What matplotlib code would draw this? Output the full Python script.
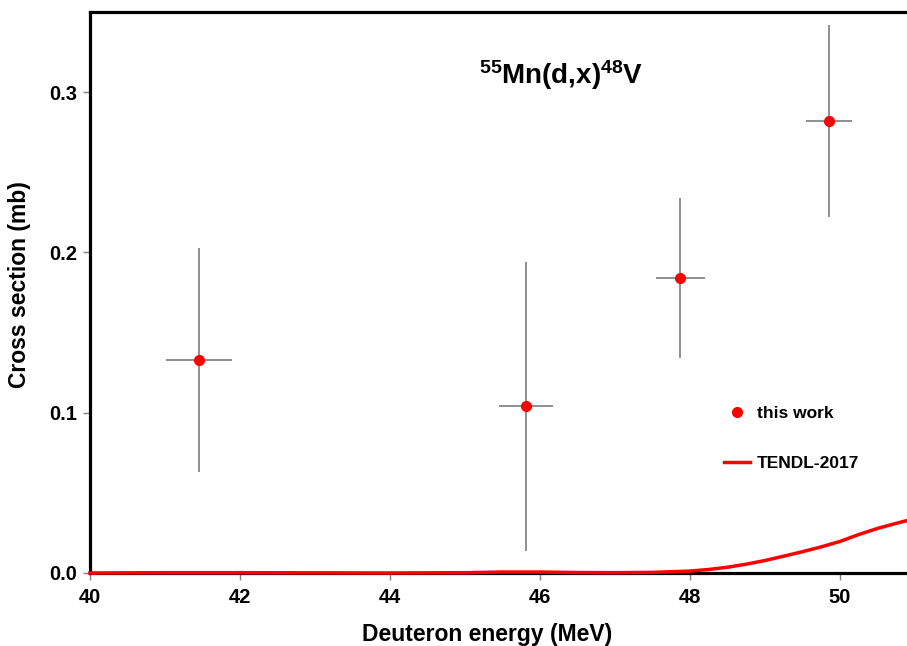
import matplotlib
matplotlib.use("Agg")
import matplotlib.pyplot as plt
from matplotlib.lines import Line2D

plt.rcParams['font.family'] = ['Liberation Sans', 'DejaVu Sans']
plt.rcParams['font.weight'] = 'bold'
plt.rcParams['mathtext.fontset'] = 'custom'
plt.rcParams['mathtext.rm'] = 'Liberation Sans:bold'
plt.rcParams['mathtext.bf'] = 'Liberation Sans:bold'
plt.rcParams['mathtext.default'] = 'bf'

# measured data (this work)
energy = [41.45, 45.81, 47.87, 49.85]
energy_err = [0.44, 0.36, 0.33, 0.31]
xs = [0.133, 0.104, 0.184, 0.282]
xs_err = [0.070, 0.090, 0.050, 0.060]

# TENDL-2017 curve
tendl_e = [40.0, 41.0, 42.0, 43.0, 44.0, 45.0, 45.5, 46.0, 46.5, 47.0, 47.5,
           48.0, 48.25, 48.5, 48.75, 49.0, 49.25, 49.5, 49.75, 50.0, 50.25,
           50.5, 50.75, 51.0]
tendl_xs = [0.0, 0.0002, 0.0002, 0.0001, 0.0, 0.0002, 0.0006, 0.0006, 0.0003,
            0.0002, 0.0004, 0.0012, 0.0022, 0.0036, 0.0055, 0.0078, 0.0105,
            0.0133, 0.0163, 0.0197, 0.0240, 0.0278, 0.0310, 0.0340]

fig = plt.figure(figsize=(9.07, 6.46), dpi=100)
ax = fig.add_axes([90/907, 1-573/646, 1-90/907, (573-12)/646])

ax.plot(tendl_e, tendl_xs, color='#ff0000', lw=2.5, zorder=3, clip_on=False)
ax.errorbar(energy, xs, xerr=energy_err, yerr=xs_err, fmt='o', color='#ff0000',
            ms=7, ecolor='#707070', elinewidth=1.1, capsize=0, zorder=4)

ax.set_xlim(40, 40 + (907-90)/75)
ax.set_ylim(0, 0.35)
ax.set_xticks([40, 42, 44, 46, 48, 50])
ax.set_yticks([0.0, 0.1, 0.2, 0.3])
ax.set_yticklabels(['0.0', '0.1', '0.2', '0.3'])

for s in ['left', 'top', 'bottom']:
    ax.spines[s].set_linewidth(2.3)
    ax.spines[s].set_color('black')
ax.spines['right'].set_visible(False)
ax.tick_params(axis='both', direction='out', length=5, width=1, color='#808080',
               labelsize=14.5)
ax.tick_params(axis='x', pad=6)
ax.tick_params(axis='y', pad=4)
ax.tick_params(top=False, right=False)
for lab in ax.get_xticklabels() + ax.get_yticklabels():
    lab.set_fontweight('bold')

ax.set_xlabel('Deuteron energy (MeV)', fontsize=16.5, fontweight='bold')
ax.xaxis.set_label_coords((487-90)/817, -0.09)
ax.set_ylabel('Cross section (mb)', fontsize=16.5, fontweight='bold')
ax.yaxis.set_label_coords(-0.072, 0.515)

ax.text(0.577, 0.888, r'$^{55}$Mn(d,x)$^{48}$V', transform=ax.transAxes,
        fontsize=20, fontweight='bold', ha='center', va='center')

handles = [Line2D([], [], marker='o', ls='none', color='#ff0000', ms=7),
           Line2D([], [], color='#ff0000', lw=2.5)]
labels = ['this work', 'TENDL-2017']
leg = ax.legend(handles, labels, frameon=False,
                loc='upper left', bbox_to_anchor=(0.757, 0.326), fontsize=12.5,
                labelspacing=2.0, handlelength=1.5, handletextpad=0.4)
for t in leg.get_texts():
    t.set_fontweight('bold')

fig.savefig('out.png', dpi=100)
